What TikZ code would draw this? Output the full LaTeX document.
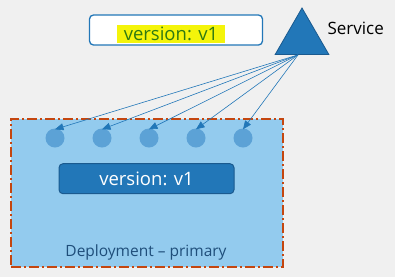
\documentclass[tikz,border=0pt]{standalone}
\usepackage{fontspec}
\setmainfont{Open Sans}
\usetikzlibrary{arrows.meta, shapes.geometric}

\definecolor{canvas}{HTML}{F0F0F0}
\definecolor{deployfill}{HTML}{93CBEE}
\definecolor{deployedge}{HTML}{C4460F}
\definecolor{podblue}{HTML}{5CA2D6}
\definecolor{darkblue}{HTML}{2277B8}
\definecolor{edgeblue}{HTML}{1A5A8F}
\definecolor{textblue}{HTML}{1F4E7A}
\definecolor{labelgreen}{HTML}{2F7A12}
\definecolor{marker}{HTML}{F4F40A}

\begin{document}
\begin{tikzpicture}[
    x=1pt, y=-1pt,
    every node/.style={font=\fontsize{18.5}{20}\selectfont},
    selector/.style={draw=darkblue, fill=white, line width=1.3pt, rounded corners=4pt,
                     minimum width=173pt, minimum height=30pt},
    pod/.style={circle, fill=podblue, minimum size=19pt, inner sep=0pt},
    link/.style={-{Triangle[length=8.5pt, width=7pt]}, draw=darkblue, line width=0.6pt},
]
% canvas
\fill[canvas] (0,0) rectangle (395,277);
\useasboundingbox (0,0) rectangle (395,277);

% deployment area with its pods
\node[draw=deployedge, fill=deployfill, line width=1.7pt,
      dash pattern=on 10pt off 3pt on 2pt off 3pt,
      minimum width=272pt, minimum height=148pt, inner sep=0pt] (deploy) at (146.7,193.2) {};
\foreach \i in {1,...,5}
    \node[pod] (pod\i) at ({55+47*(\i-1)},138) {};

\node[draw=edgeblue, fill=darkblue, text=white, line width=1pt, rounded corners=4pt,
      minimum width=175pt, minimum height=30pt] (podver) at (146.5,178.7) {version: v1};
\node[text=textblue, font=\fontsize{15.5}{17}\selectfont] (deplabel) at (146,252) {Deployment -- primary};

% selector label
\node[selector] (sel) at (176,30) {};
\node[fill=marker, text=labelgreen, inner xsep=7pt, inner ysep=1pt,
      minimum height=18pt] (seltext) at (171,34) {version: v1};

% service
\node[regular polygon, regular polygon sides=3, minimum size=62pt, inner sep=0pt,
      fill=darkblue, draw=edgeblue, line width=0.8pt] (svc) at (302,39) {};
\node[anchor=west, font=\fontsize{17}{19}\selectfont] (svclabel) at (324,28) {Service};

\foreach \i in {1,...,5}
    \draw[link] ([xshift=-4pt]svc.south) -- ([yshift=-1pt]pod\i.north);
\end{tikzpicture}
\end{document}
